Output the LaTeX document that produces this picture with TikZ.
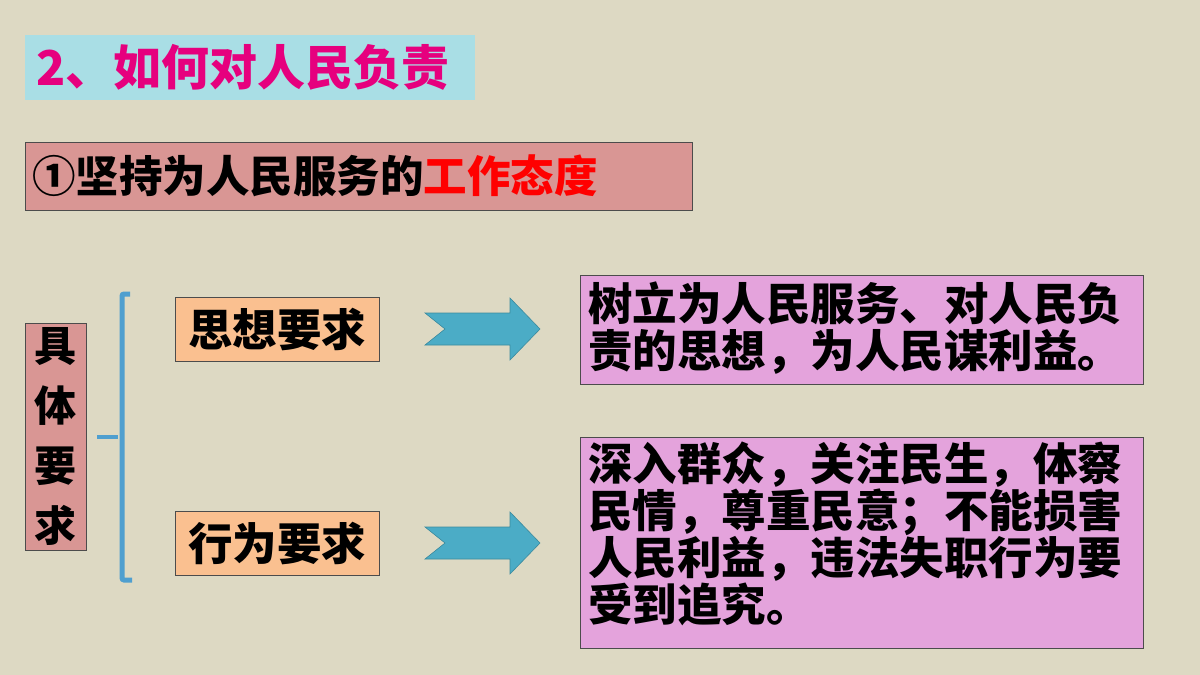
\documentclass[tikz,border=0pt]{standalone}
\usepackage{fontspec}
\newfontfamily\cjk{Noto Sans CJK SC Black}
\definecolor{bg}{HTML}{DDD9C3}
\definecolor{cy}{HTML}{A9DEE5}
\definecolor{mag}{HTML}{E6007E}
\definecolor{rose}{HTML}{D99694}
\definecolor{org}{HTML}{FAC090}
\definecolor{teal}{HTML}{4BACC6}
\definecolor{vio}{HTML}{E4A3DC}
\definecolor{brk}{HTML}{4F9FCF}
\begin{document}
\begin{tikzpicture}[x=1pt,y=-1pt,
 txt/.style={font=\cjk\fontsize{44.5}{47}\selectfont},
 bx/.style={draw=black!70,line width=0.8pt},
 arr/.style={fill=teal,draw=teal!80!black,line width=0.6pt}]
\fill[bg] (0,0) rectangle (1200,675);
\useasboundingbox (0,0) rectangle (1200,675);
\node[fill=cy,minimum width=450,minimum height=65,anchor=north west,inner sep=0] (t) at (25,35) {};
\node[text=mag,anchor=west,font=\cjk\fontsize{48}{50}\selectfont,inner sep=0] (tt) at (36,67) {2、如何对人民负责};
\node[bx,fill=rose,minimum width=667,minimum height=68,anchor=north west,inner sep=0] (s) at (25,142) {};
\node[anchor=west,font=\cjk\fontsize{43.5}{45}\selectfont,inner sep=0] (st) at (32,176) {①坚持为人民服务的\textcolor{red}{工作态度}};
\node[bx,fill=rose,minimum width=61,minimum height=227,anchor=north west,inner sep=0] (l) at (25,323) {};
\node[font=\cjk\fontsize{42}{60}\selectfont,align=center] (lt) at (l.center) {具\\体\\要\\求};
\draw[brk,line width=5pt,rounded corners=2pt] (130,294) -- (122,294) -- (122,580) -- (132,580);
\draw[brk,line width=4pt] (97,437) -- (118,437);
\node[bx,fill=org,minimum width=204,minimum height=64,anchor=north west,inner sep=0] (o1) at (175,297) {};
\node[txt] at (o1.center) {思想要求};
\node[bx,fill=org,minimum width=204,minimum height=64,anchor=north west,inner sep=0] (o2) at (175,511) {};
\node[txt] at (o2.center) {行为要求};
\foreach \y/\n in {329/a1,543/a2}{
 \coordinate (\n) at (425,\y);
 \draw[arr] (425,\y-16) -- (510,\y-16) -- (510,\y-31) -- (540,\y) -- (510,\y+31) -- (510,\y+16) -- (425,\y+16) -- (445,\y) -- cycle;
}
\node[bx,fill=vio,minimum width=563,minimum height=109,anchor=north west,inner sep=0] (p1) at (580,275) {};
\node[txt,anchor=north west,align=left,inner sep=0] at (588,282) {树立为人民服务、对人民负\\责的思想，为人民谋利益。};
\node[bx,fill=vio,minimum width=563,minimum height=211,anchor=north west,inner sep=0] (p2) at (580,437) {};
\node[txt,anchor=north west,align=left,inner sep=0] at (588,442) {深入群众，关注民生，体察\\民情，尊重民意；不能损害\\人民利益，违法失职行为要\\受到追究。};
\end{tikzpicture}
\end{document}
